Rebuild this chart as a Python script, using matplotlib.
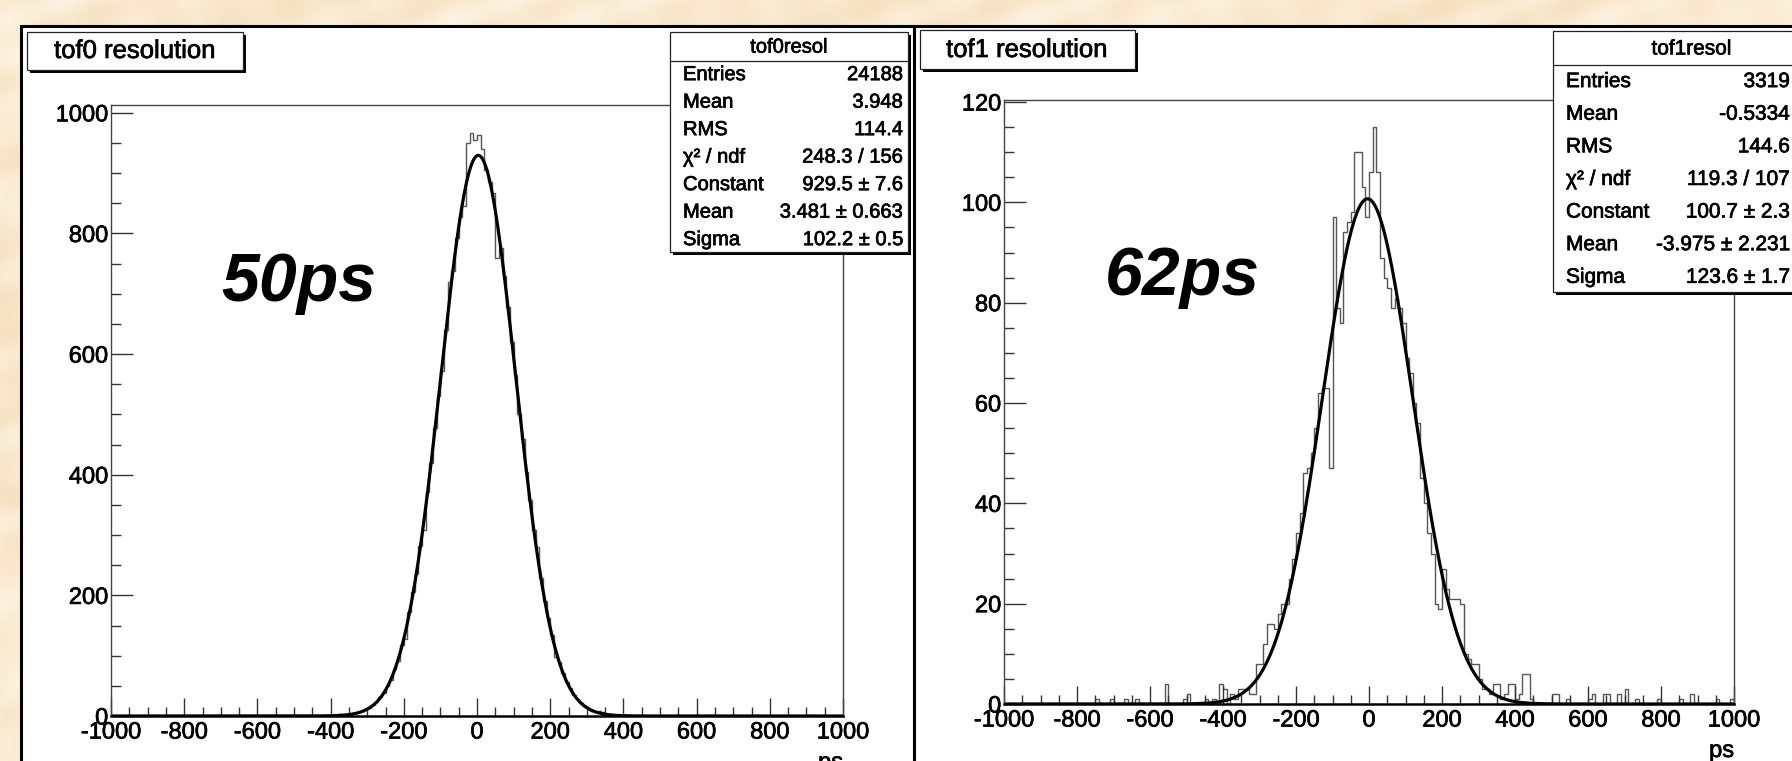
import numpy as np
import matplotlib
matplotlib.use("Agg")
import matplotlib.pyplot as plt
import matplotlib.patheffects as pe
from matplotlib.patches import Rectangle
from matplotlib.ticker import MultipleLocator

W, H = 1792, 761
plt.rcParams['font.family'] = ['Liberation Sans', 'DejaVu Sans']
plt.rcParams['axes.unicode_minus'] = False

# 200 bins of 10 ps from -1000 to 1000
edges = np.arange(-1000, 1001, 10)

tof0_counts = [
    0, 0, 0, 0, 0, 0, 0, 0, 0, 0,
    0, 0, 0, 0, 0, 0, 0, 0, 0, 0,
    0, 0, 0, 0, 0, 0, 0, 0, 0, 1,
    1, 0, 0, 0, 0, 1, 0, 0, 0, 0,
    0, 0, 0, 0, 2, 0, 0, 0, 0, 1,
    0, 0, 0, 0, 1, 0, 1, 0, 2, 1,
    1, 2, 3, 2, 3, 4, 5, 7, 8, 11,
    14, 18, 24, 31, 38, 49, 60, 78, 92, 118,
    128, 172, 205, 236, 282, 308, 372, 420, 478, 530,
    572, 640, 720, 738, 792, 828, 845, 950, 966, 955,
    963, 940, 905, 885, 867, 760, 776, 730, 678, 620,
    565, 500, 460, 405, 358, 308, 280, 228, 190, 162,
    134, 98, 90, 72, 56, 46, 35, 28, 21, 16,
    12, 9, 7, 8, 6, 4, 2, 1, 2, 1,
    1, 0, 0, 0, 0, 0, 0, 0, 0, 0,
    0, 0, 0, 0, 1, 0, 0, 0, 0, 0,
    1, 0, 0, 2, 1, 0, 1, 0, 0, 0,
    1, 0, 0, 0, 0, 0, 2, 0, 0, 0,
    0, 0, 0, 0, 0, 0, 0, 0, 0, 0,
    0, 1, 0, 0, 0, 0, 0, 0, 0, 0,
]

tof1_counts = [
    0, 0, 0, 0, 0, 0, 0, 0, 0, 0,
    0, 0, 0, 0, 0, 0, 0, 0, 0, 0,
    0, 0, 0, 0, 0, 1, 0, 0, 0, 1,
    0, 0, 0, 1, 0, 0, 1, 0, 0, 0,
    0, 0, 0, 0, 4, 0, 0, 0, 0, 1,
    2, 0, 0, 0, 0, 1, 0, 1, 0, 4,
    3, 0, 2, 1, 3, 3, 3, 2, 2, 8,
    8, 12, 16, 16, 15, 18, 20, 20, 25, 29,
    34, 38, 46, 47, 50, 55, 62, 63, 63, 47,
    97, 79, 76, 94, 96, 98, 110, 110, 103, 97,
    106, 115, 106, 89, 85, 83, 79, 81, 79, 76,
    69, 66, 60, 56, 45, 40, 34, 30, 20, 19,
    27, 23, 21, 21, 21, 20, 10, 9, 8, 8,
    5, 3, 3, 2, 4, 4, 1, 2, 4, 4,
    1, 2, 6, 6, 1, 0, 0, 0, 0, 0,
    2, 2, 0, 0, 1, 0, 0, 0, 0, 0,
    1, 2, 0, 0, 2, 2, 0, 0, 2, 0,
    3, 0, 0, 1, 0, 0, 0, 0, 0, 1,
    0, 0, 0, 0, 0, 1, 0, 0, 2, 0,
    0, 0, 0, 0, 0, 1, 0, 0, 0, 1,
]

# gaussian fit parameters shown in the stat boxes
tof0_fit = (929.5, 3.481, 102.2)
tof1_fit = (100.7, -3.975, 123.6)

tof0_stats = [("Entries", "24188"), ("Mean", "3.948"), ("RMS", "114.4"),
              ("χ² / ndf", "248.3 / 156"), ("Constant", "929.5 ± 7.6"),
              ("Mean", "3.481 ± 0.663"), ("Sigma", "102.2 ± 0.5")]
tof1_stats = [("Entries", "3319"), ("Mean", "-0.5334"), ("RMS", "144.6"),
              ("χ² / ndf", "119.3 / 107"), ("Constant", "100.7 ± 2.3"),
              ("Mean", "-3.975 ± 2.231"), ("Sigma", "123.6 ± 1.7")]

# slightly heavier strokes, like the blurry ROOT helvetica
heavy = [pe.withStroke(linewidth=0.5, foreground='black')]

fig = plt.figure(figsize=(W / 100, H / 100), dpi=100)

# parchment background
bg = fig.add_axes([0, 0, 1, 1], zorder=0)
yy, xx = np.mgrid[0:H, 0:W]
tex = (np.sin(xx / 37.0 + 2.1 * np.sin(yy / 23.0)) * np.sin(yy / 29.0 + xx / 61.0)
       + 0.6 * np.sin(xx / 13.0 + yy / 17.0) * np.sin(yy / 11.0 - xx / 47.0))
tex = (tex - tex.min()) / (tex.max() - tex.min())
dark = np.array([0.962, 0.875, 0.740])
light = np.array([0.992, 0.955, 0.885])
bg.imshow(dark + (light - dark) * tex[..., None], extent=(0, W, H, 0), aspect='auto')
bg.set_xlim(0, W)
bg.set_ylim(H, 0)
bg.axis('off')
for x0, x1 in [(21, 914), (914, 1830)]:
    bg.add_patch(Rectangle((x0, 26), x1 - x0, 800, facecolor='white',
                           edgecolor='black', lw=2.2))


def panel(rect, counts, fit, ymax, major, minor):
    x0, y0, x1, y1 = rect
    ax = fig.add_axes([x0 / W, 1 - y1 / H, (x1 - x0) / W, (y1 - y0) / H], zorder=1)
    ax.stairs(counts, edges, color='#555555', lw=1.0)
    xs = np.linspace(-1000, 1000, 1000)
    c, m, s = fit
    ax.plot(xs, c * np.exp(-0.5 * ((xs - m) / s) ** 2), color='black', lw=2.3)
    ax.set_xlim(-1000, 1000)
    ax.set_ylim(0, ymax)
    ax.xaxis.set_major_locator(MultipleLocator(200))
    ax.xaxis.set_minor_locator(MultipleLocator(50))
    ax.yaxis.set_major_locator(MultipleLocator(major))
    ax.yaxis.set_minor_locator(MultipleLocator(minor))
    ax.tick_params(which='both', direction='in', top=False, right=False,
                   color='#333333', width=1.0, labelsize=17)
    ax.tick_params(axis='y', which='major', length=15.5, pad=2)
    ax.tick_params(axis='y', which='minor', length=7)
    ax.tick_params(axis='x', which='major', length=13, pad=4)
    ax.tick_params(axis='x', which='minor', length=6.5)
    for lab in ax.get_xticklabels() + ax.get_yticklabels():
        lab.set_path_effects(heavy)
    for sp in ax.spines.values():
        sp.set_color('#444444')
        sp.set_linewidth(1.0)
    ax.spines['bottom'].set_color('black')
    ax.spines['bottom'].set_linewidth(1.8)
    return ax


panel((111, 105, 843, 716), tof0_counts, tof0_fit, 1013, 200, 50)
panel((1004, 100, 1734, 704), tof1_counts, tof1_fit, 120.4, 20, 5)

ov = fig.add_axes([0, 0, 1, 1], zorder=2)
ov.set_xlim(0, W)
ov.set_ylim(H, 0)
ov.axis('off')
ov.patch.set_alpha(0)


def pave(x0, y0, x1, y1):
    ov.add_patch(Rectangle((x0 + 3, y0 + 3), x1 - x0, y1 - y0, facecolor='black', lw=0))
    ov.add_patch(Rectangle((x0, y0), x1 - x0, y1 - y0, facecolor='white',
                           edgecolor='#222222', lw=0.9))


def label(x, y, s, **kw):
    ov.text(x, y, s, va='center', path_effects=heavy, **kw)


# title boxes
pave(27, 32, 243, 70)
label(135, 51, "tof0 resolution", ha='center', fontsize=18.5)
pave(920, 30, 1135, 69)
label(1027, 50, "tof1 resolution", ha='center', fontsize=18.5)


def statbox(x0, y0, x1, y1, name, rows, xval, fs):
    pave(x0, y0, x1, y1)
    step = (y1 - y0) / (len(rows) + 1)
    label((x0 + x1) / 2, y0 + step * 0.55, name, ha='center', fontsize=fs)
    ov.plot([x0, x1], [y0 + step * 1.05, y0 + step * 1.05], color='#222222', lw=0.9)
    for i, (lab, val) in enumerate(rows):
        yc = y0 + step * (i + 1.55)
        label(x0 + 13, yc, lab, ha='left', fontsize=fs)
        label(xval, yc, val, ha='right', fontsize=fs)


statbox(670, 32, 908, 252, "tof0resol", tof0_stats, 903, 14.5)
statbox(1553, 31, 1830, 292, "tof1resol", tof1_stats, 1790, 15)

# resolution labels
ov.text(221, 283, "50ps", ha='left', va='center', fontsize=49,
        fontweight='bold', fontstyle='italic')
ov.text(1105, 277, "62ps", ha='left', va='center', fontsize=49,
        fontweight='bold', fontstyle='italic')

# axis titles
ov.text(843, 752, "ps", ha='right', va='top', fontsize=17, path_effects=heavy)
ov.text(1734, 740, "ps", ha='right', va='top', fontsize=17, path_effects=heavy)

fig.savefig("out.png", dpi=100)
